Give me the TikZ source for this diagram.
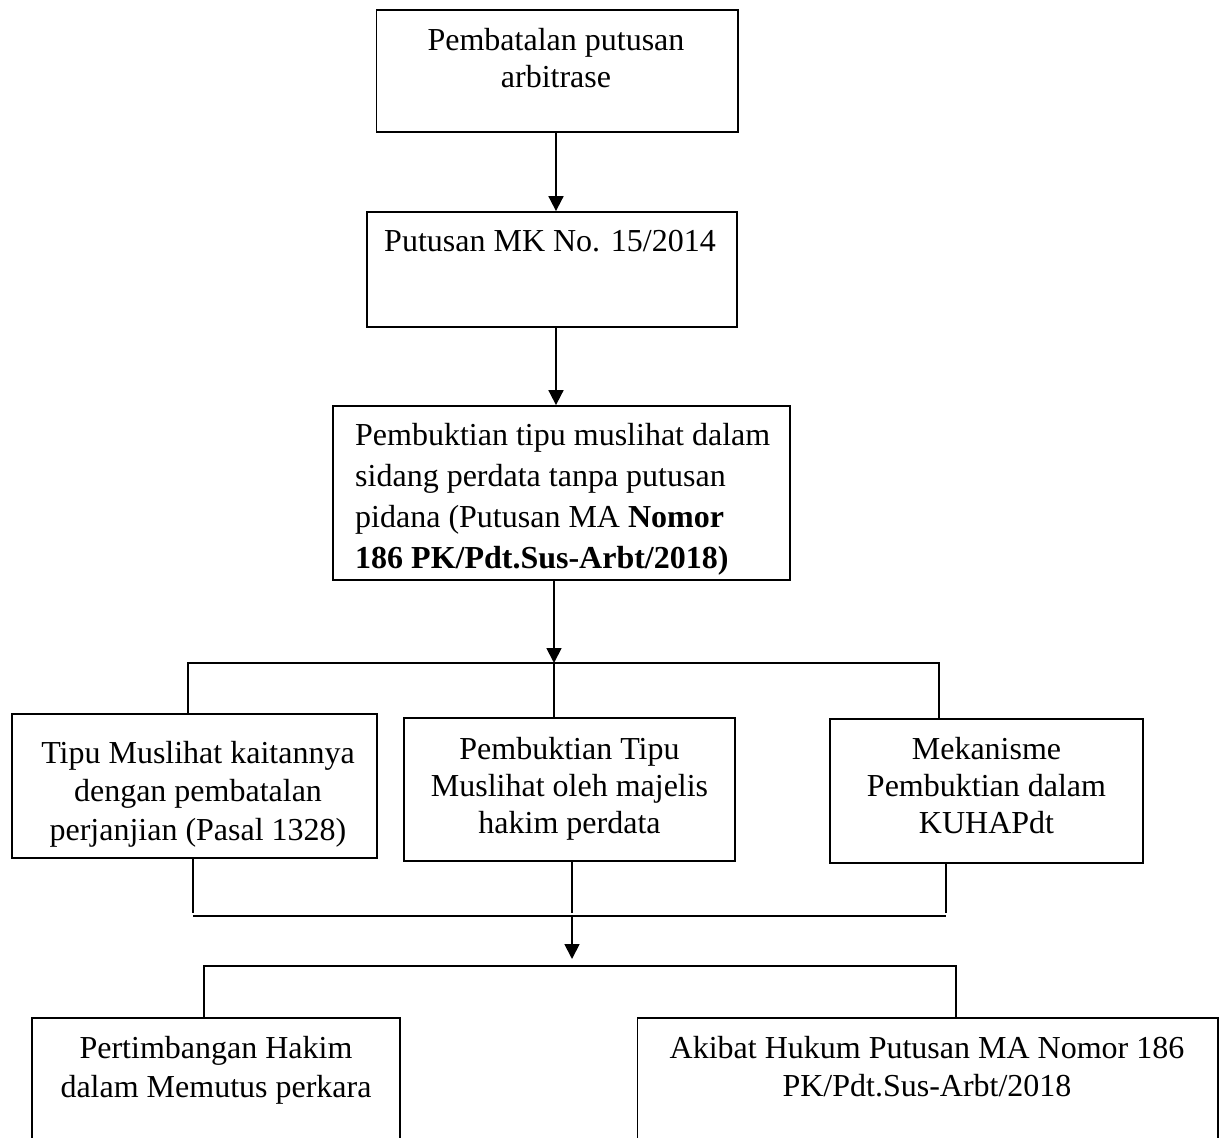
\documentclass[tikz,border=0pt]{standalone}
\usepackage{fontspec}
\setmainfont{Liberation Serif}
\usetikzlibrary{arrows.meta}
\begin{document}
\begin{tikzpicture}[x=1pt,y=-1pt,
  boxnode/.style={draw,line width=1.8pt,inner sep=0pt},
  txt/.style={inner sep=0pt,anchor=north,align=center},
  conn/.style={line width=1.8pt},
  arr/.style={line width=1.8pt,-{Triangle[length=15pt,width=15pt]}}]
\useasboundingbox (0,0) rectangle (1219,1138);
\clip (0,0) rectangle (1219,1138);
% boxes
\node[boxnode,minimum width=361.5pt,minimum height=122pt] (b1) at (557.25,71) {};
\node[boxnode,minimum width=370pt,minimum height=115pt] (b2) at (552,269.5) {};
\node[boxnode,minimum width=457pt,minimum height=174pt] (b3) at (561.5,493) {};
\node[boxnode,minimum width=365pt,minimum height=144pt] (b4a) at (194.5,786) {};
\node[boxnode,minimum width=331pt,minimum height=143pt] (b4b) at (569.5,789.5) {};
\node[boxnode,minimum width=313pt,minimum height=144pt] (b4c) at (986.5,791) {};
\node[boxnode,minimum width=368pt,minimum height=142pt] (b5a) at (216,1089) {};
\node[boxnode,minimum width=580.5pt,minimum height=142pt] (b5b) at (927.75,1089) {};
% texts
\node[txt,font=\fontsize{32}{37}\selectfont] (t1) at (556,28) {Pembatalan putusan\\arbitrase};
\node[txt,font=\fontsize{32}{37}\selectfont] (t2) at (550,230) {Putusan MK No. 15/2014};
\node[txt,anchor=north west,align=left,font=\fontsize{32}{41}\selectfont] (t3) at (355,423)
  {Pembuktian tipu muslihat dalam\\sidang perdata tanpa putusan\\pidana (Putusan MA \textbf{Nomor}\\\textbf{186 PK/Pdt.Sus-Arbt/2018)}};
\node[txt,font=\fontsize{32}{38.5}\selectfont] (t4a) at (198,741) {Tipu Muslihat kaitannya\\dengan pembatalan\\perjanjian (Pasal 1328)};
\node[txt,font=\fontsize{32}{37}\selectfont] (t4b) at (569.5,737) {Pembuktian Tipu\\Muslihat oleh majelis\\hakim perdata};
\node[txt,font=\fontsize{32}{37}\selectfont] (t4c) at (986.5,737) {Mekanisme\\Pembuktian dalam\\KUHAPdt};
\node[txt,font=\fontsize{32}{39}\selectfont] (t5a) at (216,1036) {Pertimbangan Hakim\\dalam Memutus perkara};
\node[txt,font=\fontsize{32}{38}\selectfont] (t5b) at (927,1036) {Akibat Hukum Putusan MA Nomor 186\\PK/Pdt.Sus-Arbt/2018};
% connectors
\coordinate (a1) at (556,0);
\draw[arr] (a1 |- b1.south) -- (a1 |- b2.north);
\draw[arr] (a1 |- b2.south) -- (a1 |- b3.north);
\coordinate (s1) at (554,663);
\coordinate (s1L) at (188,663);
\coordinate (s1R) at (939,663);
\draw[arr] (s1 |- b3.south) -- (s1);
\draw[conn] (s1L |- b4a.north) -- (s1L) -- (s1R) -- (s1R |- b4c.north);
\draw[conn] (s1) -- (s1 |- b4b.north);
\coordinate (e1) at (193,913);
\coordinate (e2) at (572,913);
\coordinate (e3) at (946,913);
\coordinate (j1) at (193,916);
\coordinate (j2) at (572,916);
\coordinate (j3) at (946,916);
\draw[conn] (e1 |- b4a.south) -- (e1);
\draw[conn] (e2 |- b4b.south) -- (e2);
\draw[conn] (e3 |- b4c.south) -- (e3);
\draw[line width=2.4pt] (j1) -- (j3);
\coordinate (m1) at (572,959);
\draw[arr] (j2) -- (m1);
\coordinate (k1) at (204,966);
\coordinate (k2) at (956,966);
\draw[conn] (k1 |- b5a.north) -- (k1) -- (k2) -- (k2 |- b5b.north);
\end{tikzpicture}
\end{document}
